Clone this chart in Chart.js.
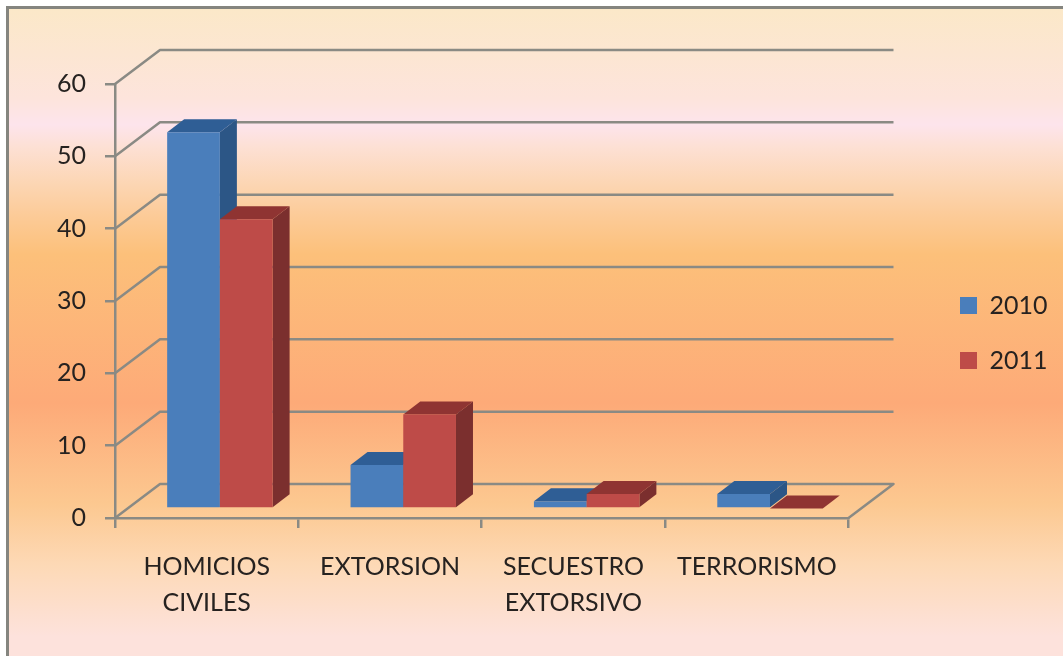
<!DOCTYPE html>
<html>
<head>
<meta charset="utf-8">
<style>html,body{margin:0;padding:0;background:#fff}canvas{display:block;filter:blur(0.6px)}</style>
<script src="https://cdn.jsdelivr.net/npm/chart.js@4"></script>
</head>
<body>
<canvas id="c" width="1063" height="656"></canvas>
<script>
const categories = [['HOMICIOS','CIVILES'],'EXTORSION',['SECUESTRO','EXTORSIVO'],'TERRORISMO'];
const values2010 = [52, 6, 1, 2];
const values2011 = [40, 13, 2, 0];
const yTicks = [0, 10, 20, 30, 40, 50, 60];

const LINE = '#8a8a84', TEXT = '#262220';
const wallDx = 45, wallDy = -34;
const barDx = 13.2, barDy = -9.5, depthX = 17, depthY = -13;
const shades = {
  0: {top: '#2f5e95', side: '#2c5686'},
  1: {top: '#8f3432', side: '#7b2f2e'}
};

const backdrop = {
  id: 'backdrop',
  beforeDraw(chart) {
    const ctx = chart.ctx, W = chart.width, H = chart.height;
    ctx.save();
    ctx.fillStyle = '#fff';
    ctx.fillRect(0, 0, W, H);
    const g = ctx.createLinearGradient(0, 8, 0, H);
    [[0,'#fbe8c8'],[0.14,'#fde4dc'],[0.18,'#fde4ec'],[0.215,'#fde0d4'],[0.27,'#fcd6b4'],
     [0.32,'#fccb98'],[0.38,'#fcc07a'],[0.61,'#fdaa78'],[0.765,'#fcc890'],[0.86,'#fdd9b6'],[0.97,'#fde2dc'],[1,'#fde2dc']]
      .forEach(s => g.addColorStop(s[0], s[1]));
    ctx.fillStyle = g;
    ctx.fillRect(8, 8, W - 8, H - 8);
    ctx.fillStyle = '#85857f';
    ctx.fillRect(6, 6, W - 6, 3);
    ctx.fillRect(6, 6, 3, H - 6);
    ctx.restore();
  }
};

const walls = {
  id: 'walls',
  beforeDatasetsDraw(chart) {
    const ctx = chart.ctx, y = chart.scales.y, a = chart.chartArea;
    ctx.save();
    ctx.strokeStyle = LINE;
    ctx.lineWidth = 2.5;
    ctx.lineJoin = 'round';
    yTicks.forEach(t => {
      const py = y.getPixelForValue(t);
      ctx.beginPath();
      ctx.moveTo(a.left, py);
      ctx.lineTo(a.left + wallDx, py + wallDy);
      ctx.lineTo(a.right + wallDx, py + wallDy);
      if (t === 0) ctx.lineTo(a.right, py);
      ctx.stroke();
    });
    ctx.restore();
  }
};

function drawPrism(ctx, meta, s, withFront) {
  ctx.save();
  ctx.translate(barDx, barDy);
  meta.data.forEach(b => {
    const x0 = b.x - b.width / 2, x1 = b.x + b.width / 2, top = b.y, base = b.base;
    ctx.fillStyle = s.side;
    ctx.beginPath();
    ctx.moveTo(x1, top);
    ctx.lineTo(x1 + depthX, top + depthY);
    ctx.lineTo(x1 + depthX, base + depthY);
    ctx.lineTo(x1, base);
    ctx.closePath();
    ctx.fill();
    ctx.fillStyle = s.top;
    ctx.beginPath();
    ctx.moveTo(x0, top);
    ctx.lineTo(x0 + depthX, top + depthY);
    ctx.lineTo(x1 + depthX, top + depthY);
    ctx.lineTo(x1, top);
    ctx.closePath();
    ctx.fill();
    if (withFront) b.draw(ctx);
  });
  ctx.restore();
}

/* The library paints the left series last; here the right series is painted
   after it, so each bar's front covers the side of the bar on its left. */
const prism = {
  id: 'prism',
  beforeDatasetDraw(chart, args) {
    if (args.index === 1) return false;
    drawPrism(chart.ctx, args.meta, shades[0], false);
    chart.ctx.save();
    chart.ctx.translate(barDx, barDy);
  },
  afterDatasetDraw(chart, args) {
    chart.ctx.restore();
    if (args.index === 0) drawPrism(chart.ctx, chart.getDatasetMeta(1), shades[1], true);
  }
};

const legendPlace = {
  id: 'legendPlace',
  afterLayout(chart) {
    const l = chart.legend;
    l.left = 930; l.right = 1063; l.top = 263; l.bottom = 656;
  }
};

new Chart(document.getElementById('c'), {
  type: 'bar',
  data: {
    labels: categories,
    datasets: [
      {label: '2010', data: values2010, backgroundColor: '#4a7ebb', borderWidth: 0, clip: false},
      {label: '2011', data: values2011, backgroundColor: '#be4b48', borderWidth: 0, clip: false}
    ]
  },
  plugins: [backdrop, walls, prism, legendPlace],
  options: {
    responsive: false,
    animation: false,
    layout: {padding: {left: 0, top: 84, right: 87, bottom: 0}},
    categoryPercentage: 0.575,
    barPercentage: 1,
    plugins: {
      tooltip: {enabled: false},
      legend: {
        position: 'right',
        align: 'start',
        labels: {boxWidth: 17, boxHeight: 17, padding: 30, color: TEXT, font: {family: 'Lato', size: 25}}
      }
    },
    scales: {
      x: {
        type: 'category',
        grid: {drawOnChartArea: false, drawTicks: true, tickLength: 10, color: LINE, lineWidth: 2.5, offset: true},
        border: {color: LINE, width: 2.5},
        ticks: {color: TEXT, font: {family: 'Lato', size: 25, lineHeight: 1.44}, padding: 21, maxRotation: 0, minRotation: 0, autoSkip: false},
        afterFit(s) { s.height = 138; }
      },
      y: {
        min: 0, max: 60,
        afterBuildTicks(s) { s.ticks = yTicks.map(v => ({value: v})); },
        grid: {drawOnChartArea: false, drawTicks: true, tickLength: 10, color: LINE, lineWidth: 2.5},
        border: {color: LINE, width: 2.5},
        ticks: {color: TEXT, font: {family: 'Lato', size: 25}, padding: 19},
        afterFit(s) { s.width = 115; }
      }
    }
  }
});
</script>
</body>
</html>
